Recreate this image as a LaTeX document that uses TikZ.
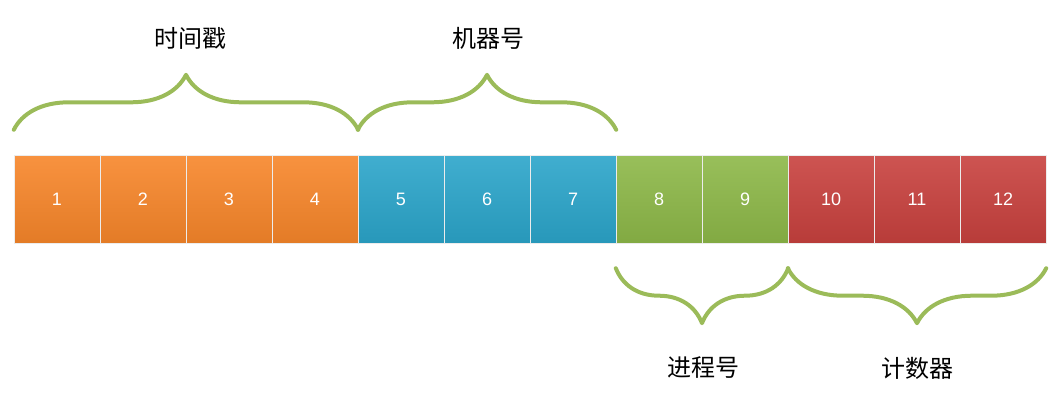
\documentclass[tikz,border=0pt]{standalone}
\usepackage{fontspec}
\setmainfont{Liberation Sans}
\newfontfamily\cjk{Noto Sans CJK SC}
\usetikzlibrary{decorations.pathreplacing}
\definecolor{c_orange}{HTML}{F7862A}
\definecolor{c_blue}{HTML}{2BA5CA}
\definecolor{c_green}{HTML}{8DB848}
\definecolor{c_red}{HTML}{C8413E}
\definecolor{c_brace}{HTML}{9BBB59}
\tikzset{
  cell/.style={minimum width=86pt,minimum height=88pt,inner sep=0pt,text=white,
    font=\fontsize{18}{20}\selectfont,draw=white!85!gray,line width=0.4pt},
  curly/.style={decorate,decoration={brace,amplitude=55pt,aspect=0.5},c_brace,line width=4pt,line cap=round,line join=round},
  title/.style={font=\cjk\fontsize{24}{26}\selectfont}
}
\begin{document}
\begin{tikzpicture}[x=1pt,y=-1pt]
	\useasboundingbox (0,0) rectangle (1060,400);
	\foreach \i/\col in {1/c_orange,2/c_orange,3/c_orange,4/c_orange,5/c_blue,6/c_blue,7/c_blue,8/c_green,9/c_green,10/c_red,11/c_red,12/c_red}
		\node[cell,top color=\col!90!white,bottom color=\col!92!black] (c\i) at (14+86*\i-43,199) {\i};

	% top braces
	\draw[curly] ([yshift=25pt]c1.north west) -- ([yshift=25pt]c4.north east);
	\draw[curly] ([yshift=25pt]c5.north west) -- ([yshift=25pt]c7.north east);
	\node[title] (ts) at (190,38) {时间戳};
	\node[title] (mc) at (488,38) {机器号};

	% bottom braces
	\draw[curly] ([yshift=-25pt]c9.south east) -- ([yshift=-25pt]c8.south west);
	\draw[curly] ([yshift=-25pt]c12.south east) -- ([yshift=-25pt]c10.south west);
	\node[title] (pr) at (703,368) {进程号};
	\node[title] (ct) at (917,368) {计数器};
\end{tikzpicture}
\end{document}
